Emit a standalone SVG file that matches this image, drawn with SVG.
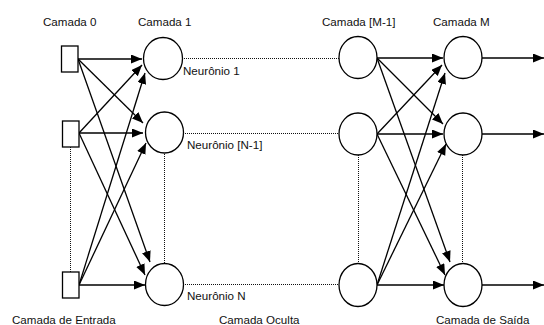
<svg xmlns="http://www.w3.org/2000/svg" width="544" height="325" viewBox="0 0 544 325">
<style>
.node{fill:#fff;stroke:#000;stroke-width:1.3}
.lbl{font-family:"Liberation Sans",Arial,sans-serif;font-size:11.6px;fill:#111}
.arr{stroke:#000;stroke-width:1.3;fill:none;marker-end:url(#ah)}
.dot{stroke:#111;stroke-width:1;stroke-dasharray:1 1;fill:none}
</style>
<defs>
<marker id="ah" markerUnits="userSpaceOnUse" markerWidth="12" markerHeight="10" refX="11" refY="4.5" orient="auto">
<path d="M0,0 L11,4.5 L0,9 z" fill="#000"/>
</marker>
</defs>
<rect width="544" height="325" fill="#fff"/>
<g id="connectors">
<line class="dot" x1="182" y1="58.5" x2="339" y2="58.5"/>
<line class="dot" x1="183" y1="133.5" x2="339" y2="133.5"/>
<line class="dot" x1="183" y1="284.5" x2="339" y2="284.5"/>
<line class="dot" x1="70.5" y1="147" x2="70.5" y2="272"/>
<line class="dot" x1="164.5" y1="154" x2="164.5" y2="264"/>
<line class="dot" x1="358.5" y1="155" x2="358.5" y2="264"/>
<line class="dot" x1="462.5" y1="155" x2="462.5" y2="264"/>
<line class="arr" x1="78" y1="59" x2="142" y2="59"/>
<line class="arr" x1="78" y1="59" x2="143" y2="123"/>
<line class="arr" x1="78" y1="59" x2="150" y2="262"/>
<line class="arr" x1="79" y1="133" x2="142" y2="65"/>
<line class="arr" x1="79" y1="133" x2="143" y2="133"/>
<line class="arr" x1="79" y1="133" x2="145" y2="275"/>
<line class="arr" x1="79" y1="285" x2="145" y2="73"/>
<line class="arr" x1="79" y1="285" x2="146" y2="143"/>
<line class="arr" x1="79" y1="285" x2="145" y2="285"/>
<line class="arr" x1="377" y1="58" x2="443" y2="58"/>
<line class="arr" x1="377" y1="58" x2="443" y2="124"/>
<line class="arr" x1="377" y1="58" x2="450" y2="262"/>
<line class="arr" x1="377" y1="134" x2="442" y2="65"/>
<line class="arr" x1="377" y1="134" x2="443" y2="134"/>
<line class="arr" x1="377" y1="134" x2="445" y2="275"/>
<line class="arr" x1="377" y1="285" x2="445" y2="73"/>
<line class="arr" x1="377" y1="285" x2="446" y2="144"/>
<line class="arr" x1="377" y1="285" x2="444" y2="285"/>
<line class="arr" x1="482" y1="58" x2="544" y2="58"/>
<line class="arr" x1="482" y1="134" x2="544" y2="134"/>
<line class="arr" x1="482" y1="285" x2="544" y2="285"/>
</g>
<g id="in1"><rect class="node" x="61.5" y="46" width="16.5" height="26"/></g>
<g id="in2"><rect class="node" x="62.5" y="121" width="16.5" height="26"/></g>
<g id="in3"><rect class="node" x="62.5" y="272" width="16.5" height="26"/></g>
<g id="h1n1"><ellipse class="node" cx="163" cy="58.5" rx="19.5" ry="21"/></g>
<g id="h1n2"><ellipse class="node" cx="164.5" cy="132.5" rx="19" ry="20.5"/></g>
<g id="h1n3"><ellipse class="node" cx="164.5" cy="284.5" rx="19" ry="21"/></g>
<g id="hmn1"><ellipse class="node" cx="358" cy="57.5" rx="19" ry="21"/></g>
<g id="hmn2"><ellipse class="node" cx="358" cy="134" rx="19" ry="21"/></g>
<g id="hmn3"><ellipse class="node" cx="358" cy="285" rx="19" ry="21.5"/></g>
<g id="on1"><ellipse class="node" cx="463" cy="57.5" rx="19" ry="21"/></g>
<g id="on2"><ellipse class="node" cx="463" cy="134" rx="19" ry="21"/></g>
<g id="on3"><ellipse class="node" cx="463" cy="285" rx="19" ry="21.5"/></g>
<g id="labels">
<text class="lbl" x="43" y="26">Camada 0</text>
<text class="lbl" x="138" y="26">Camada 1</text>
<text class="lbl" x="322" y="26">Camada [M-1]</text>
<text class="lbl" x="433" y="26">Camada M</text>
<text class="lbl" x="183" y="75">Neurônio 1</text>
<text class="lbl" x="187" y="149">Neurônio [N-1]</text>
<text class="lbl" x="187" y="300">Neurônio N</text>
<text class="lbl" x="12" y="324">Camada de Entrada</text>
<text class="lbl" x="219" y="324">Camada Oculta</text>
<text class="lbl" x="436" y="324">Camada de Saída</text>
</g>
</svg>
